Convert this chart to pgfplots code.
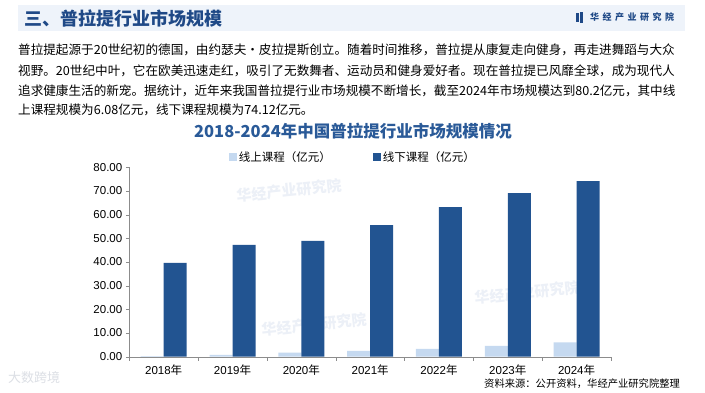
\documentclass[border=0pt]{standalone}
\usepackage{fontspec}
\setmainfont{Liberation Sans}
\newfontfamily\cjk{Noto Sans CJK SC}
\usepackage{pgfplots}
\pgfplotsset{compat=1.18}
\definecolor{darkbar}{RGB}{34,84,145}
\definecolor{lightbar}{RGB}{197,217,240}
\definecolor{titleblue}{RGB}{42,90,152}
\definecolor{headblue}{RGB}{31,73,135}
\definecolor{band}{RGB}{238,243,250}
\definecolor{axisgray}{RGB}{140,140,140}
\definecolor{wm}{RGB}{236,240,247}
\begin{document}
\begin{tikzpicture}[x=1pt,y=1pt]
\path[use as bounding box, fill=white] (0,0) rectangle (705,-392);
% watermarks
\foreach \x/\y in {237/-196, 262/-330, 475/-298}{
  \node[anchor=west, text=wm, font=\cjk\bfseries\fontsize{15}{15}\selectfont, rotate=6, inner sep=0] at (\x,\y) {华经产业研究院};
}
\node[anchor=west, text=wm!85!gray, font=\cjk\fontsize{13}{13}\selectfont, inner sep=0] at (8,-378) {大数跨境};
% header
\fill[band] (18,-5) rectangle (685,-31);
\node[anchor=west, text=headblue, font=\cjk\bfseries\fontsize{18}{20}\selectfont, inner sep=0] at (24,-18) {三、普拉提行业市场规模};
\fill[headblue] (576,-13) rectangle (578.5,-22);
\fill[headblue] (580,-12) rectangle (582.5,-23);
\node[anchor=west, text=headblue, font=\cjk\bfseries\fontsize{9}{9}\selectfont, inner sep=0] at (590,-17.5) {华\hspace{3.5pt}经\hspace{3.5pt}产\hspace{3.5pt}业\hspace{3.5pt}研\hspace{3.5pt}究\hspace{3.5pt}院};
% paragraph
\begin{scope}[every node/.style={anchor=west, inner sep=0, font=\cjk\fontsize{12.6}{14}\selectfont}]
\node at (18,-50) {普拉提起源于20世纪初的德国，由约瑟夫·皮拉提斯创立。随着时间推移，普拉提从康复走向健身，再走进舞蹈与大众};
\node at (18,-71) {视野。20世纪中叶，它在欧美迅速走红，吸引了无数舞者、运动员和健身爱好者。现在普拉提已风靡全球，成为现代人};
\node at (18,-91) {追求健康生活的新宠。据统计，近年来我国普拉提行业市场规模不断增长，截至2024年市场规模达到80.2亿元，其中线};
\node at (18,-110) {上课程规模为6.08亿元，线下课程规模为74.12亿元。};
\end{scope}
% chart title
\node[text=titleblue, font=\cjk\bfseries\fontsize{16.5}{18}\selectfont, inner sep=0] at (353,-131) {2018-2024年中国普拉提行业市场规模情况};
% source
\node[anchor=west, inner sep=0, font=\cjk\fontsize{10.3}{11}\selectfont] at (484,-384) {资料来源：公开资料，华经产业研究院整理};
\begin{axis}[
  at={(129.3pt,-356.7pt)}, anchor=south west,
  scale only axis, width=481.7pt, height=189.4pt,
  ybar=0pt, bar width=23pt,
  xmin=-0.5, xmax=6.5, ymin=0, ymax=80,
  ytick={0,10,...,80},
  /pgf/number format/assume math mode=true,
  yticklabel style={/pgf/number format/.cd, fixed, fixed zerofill, precision=2, /tikz/.cd, font=\fontsize{11.5}{12}\selectfont},
  xtick={0,...,6},
  xticklabels={2018{\cjk 年},2019{\cjk 年},2020{\cjk 年},2021{\cjk 年},2022{\cjk 年},2023{\cjk 年},2024{\cjk 年}},
  xticklabel style={font=\fontsize{11.5}{12}\selectfont, yshift=-1pt},
  minor xtick={-0.5,0.5,...,6.5},
  major x tick style={draw=none},
  minor x tick style={axisgray},
  y tick style={axisgray},
  tick align=outside, major tick length=3.5pt, minor tick length=4pt,
  axis x line*=bottom, axis y line*=left,
  axis line style={axisgray,-},
  legend style={at={(0.464,1.054)}, anchor=center, draw=none, fill=none,
     legend columns=2, font=\cjk\fontsize{11.5}{12}\selectfont,
     /tikz/every even column/.style={column sep=40pt}},
  legend image code/.code={\path[#1,draw=none] (0pt,-4pt) rectangle (8pt,4pt);},
]
\addplot[fill=lightbar, draw=none] coordinates {(0,0.25) (1,0.8) (2,1.7) (3,2.5) (4,3.3) (5,4.6) (6,6.08)};
\addplot[fill=darkbar, draw=none] coordinates {(0,39.6) (1,47.2) (2,48.9) (3,55.6) (4,63.2) (5,69.1) (6,74.12)};
\legend{线上课程（亿元）,线下课程（亿元）}
\end{axis}
\end{tikzpicture}
\end{document}
